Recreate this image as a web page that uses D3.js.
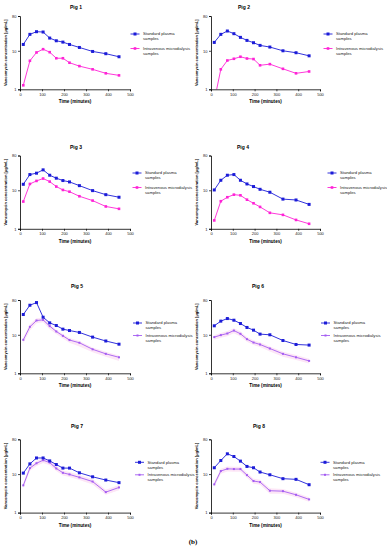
<!DOCTYPE html>
<html>
<head>
<meta charset="utf-8">
<script src="https://cdn.jsdelivr.net/npm/d3@7"></script>
<style>
  body { margin: 0; background: #fff; }
  text { font-family: "Liberation Sans", Arial, sans-serif; }
</style>
</head>
<body>
<div id="chart"></div>
<script>
// sampling times (minutes)
const times = [15, 45, 75, 105, 135, 165, 195, 225, 270, 330, 390, 450];
const pigNames = ["Pig 1", "Pig 2", "Pig 3", "Pig 4", "Pig 5", "Pig 6", "Pig 7", "Pig 8"];
const seriesNames = ["Standard plasma samples", "Intravenous microdialysis samples"];
const xTicks = [0, 100, 200, 300, 400, 500];
const yTicks = [1, 10, 80];

// standard plasma, µg/mL
const plasma1 = [14.6, 26.7, 31.3, 30.7, 21.4, 18.2, 16.8, 14.6, 12.2, 9.6, 8.4, 7.0];
const plasma2 = [16.5, 26.7, 32.6, 27.8, 22.3, 18.6, 16.2, 13.8, 12.5, 10.0, 8.9, 7.4];
const plasma3 = [14.3, 25.6, 27.8, 33.9, 24.6, 20.6, 17.9, 16.5, 13.2, 9.8, 7.7, 6.6];
const plasma4 = [10.2, 18.2, 24.6, 25.6, 18.2, 14.6, 12.5, 10.6, 8.9, 5.9, 5.6, 4.3];
const plasma5 = [33.6, 58.5, 68.6, 28.6, 20.4, 17.4, 14.0, 12.9, 11.5, 8.7, 6.9, 5.7];
const plasma6 = [17.1, 22.6, 26.4, 23.9, 19.6, 15.5, 13.2, 10.4, 10.0, 7.1, 5.6, 5.4];
const plasma7 = [10.6, 18.4, 26.2, 26.2, 22.0, 17.7, 14.3, 14.3, 10.8, 8.5, 7.0, 6.0];
const plasma8 = [14.6, 22.5, 33.6, 28.6, 21.7, 15.8, 14.6, 11.3, 9.6, 7.6, 7.3, 5.3];

// intravenous microdialysis, µg/mL
const micro1 = [1.27, 5.5, 9.05, 11.0, 9.2, 6.4, 6.4, 4.9, 4.0, 3.3, 2.6, 2.3];
const micro2 = [0.5, 3.3, 5.6, 6.2, 7.0, 6.3, 6.1, 4.2, 4.5, 3.4, 2.6, 2.9];
const micro3 = [5.1, 14.6, 17.5, 20.2, 16.8, 12.5, 10.2, 9.2, 7.0, 5.4, 3.8, 3.3];
const micro4 = [1.65, 5.2, 6.6, 7.7, 7.4, 5.7, 4.6, 3.7, 2.6, 2.3, 1.7, 1.35];
const micro5 = [7.4, 16.1, 23.5, 24.4, 16.8, 12.2, 9.4, 7.3, 6.2, 4.2, 3.2, 2.6];
const micro6 = [8.7, 9.8, 10.8, 12.9, 10.6, 7.7, 6.3, 5.6, 4.4, 3.2, 2.6, 2.1];
const micro7 = [5.1, 14.3, 19.1, 22.9, 19.9, 14.0, 10.8, 9.8, 8.2, 6.4, 3.4, 4.5];
const micro8 = [5.4, 12.0, 13.7, 13.5, 13.5, 9.4, 6.6, 6.2, 3.7, 3.6, 2.9, 2.2];

// shaded range around microdialysis (pigs 5-8)
const bandLo5 = [6.0, 13.0, 20.0, 21.0, 14.0, 10.5, 8.0, 6.2, 5.0, 3.5, 2.7, 2.1];
const bandHi5 = [8.6, 19.0, 27.0, 27.5, 19.0, 13.5, 10.5, 8.2, 6.9, 4.7, 3.6, 2.9];
const bandLo6 = [7.4, 8.4, 9.2, 11.0, 9.0, 6.6, 5.4, 4.8, 3.7, 2.7, 2.2, 1.8];
const bandHi6 = [9.8, 11.2, 12.6, 14.8, 12.2, 8.8, 7.2, 6.4, 5.0, 3.6, 3.0, 2.4];
const bandLo7 = [4.3, 12.2, 16.3, 19.5, 17.0, 12.0, 9.2, 8.4, 7.0, 5.4, 2.9, 3.8];
const bandHi7 = [5.9, 16.4, 22.0, 26.3, 22.9, 16.1, 12.4, 11.3, 9.4, 7.4, 3.9, 5.2];
const bandLo8 = [4.6, 10.2, 11.6, 11.5, 11.5, 8.0, 5.6, 5.3, 3.1, 3.1, 2.5, 1.9];
const bandHi8 = [6.2, 13.8, 15.8, 15.5, 15.5, 10.8, 7.6, 7.1, 4.3, 4.1, 3.3, 2.5];

const plasma = [plasma1, plasma2, plasma3, plasma4, plasma5, plasma6, plasma7, plasma8];
const micro = [micro1, micro2, micro3, micro4, micro5, micro6, micro7, micro8];
const bandLo = [null, null, null, null, bandLo5, bandLo6, bandLo7, bandLo8];
const bandHi = [null, null, null, null, bandHi5, bandHi6, bandHi7, bandHi8];

// layout (pixels)
const W = 387, H = 550;
const cols = [{x0: 20, x1: 130}, {x0: 211, x1: 320}];
const rowTop = [16, 155.5, 300, 439.3];
const plotH = 73.3;
const titleY = [9, 148.5, 288, 427.5];
const titleX = [76, 244, 76, 243, 77, 258, 77, 259];
const legendX = [135, 328, 137, 332, 137.5, 325.5, 139.5, 325];
const legendDy = [[18, 32.5], [17.5, 32], [23, 35.5], [23, 35.5]];

const blue = "#1c1cd8";
const magenta = "#ff22d6";
const violet = "#a45cf2";
const bandFill = "#fde6f6";

const svg = d3.select("#chart").append("svg")
  .attr("width", W).attr("height", H);

pigNames.forEach((name, i) => {
  const col = cols[i % 2];
  const row = Math.floor(i / 2);
  const top = rowTop[row], bottom = top + plotH;
  const microColor = i < 4 ? magenta : violet;

  const x = d3.scaleLinear().domain([0, 500]).range([col.x0, col.x1]);
  const y = d3.scaleLog().domain([1, 80]).range([bottom, top]);

  const g = svg.append("g");

  const clipId = "clip" + i;
  g.append("clipPath").attr("id", clipId)
    .append("rect")
    .attr("x", col.x0).attr("y", top - 3)
    .attr("width", col.x1 - col.x0 + 3).attr("height", plotH + 3);

  const plot = g.append("g").attr("clip-path", `url(#${clipId})`);

  if (bandLo[i]) {
    const area = d3.area()
      .x((d, k) => x(times[k]))
      .y0((d, k) => y(bandLo[i][k]))
      .y1((d, k) => y(bandHi[i][k]));
    plot.append("path").datum(bandLo[i])
      .attr("d", area).attr("fill", bandFill);
  }

  const line = d3.line().x((d, k) => x(times[k])).y(d => y(d));

  // microdialysis
  plot.append("path").datum(micro[i])
    .attr("d", line).attr("fill", "none")
    .attr("stroke", microColor).attr("stroke-width", 0.9);
  const ms = i < 4 ? 2.6 : 2.0;
  plot.selectAll(".mm").data(micro[i]).join("rect")
    .attr("x", (d, k) => x(times[k]) - ms / 2)
    .attr("y", d => y(d) - ms / 2)
    .attr("width", ms).attr("height", ms)
    .attr("fill", microColor);

  // plasma
  plot.append("path").datum(plasma[i])
    .attr("d", line).attr("fill", "none")
    .attr("stroke", blue).attr("stroke-width", 0.9);
  plot.selectAll(".pm").data(plasma[i]).join("rect")
    .attr("x", (d, k) => x(times[k]) - 1.5)
    .attr("y", d => y(d) - 1.5)
    .attr("width", 3).attr("height", 3)
    .attr("fill", blue);

  // axes
  const xAxis = d3.axisBottom(x).tickValues(xTicks).tickSize(2).tickPadding(1.5);
  const yAxis = d3.axisLeft(y).tickValues(yTicks).tickFormat(d3.format("d")).tickSize(2).tickPadding(1.5);

  const gx = g.append("g").attr("transform", `translate(0,${bottom})`).call(xAxis);
  const gy = g.append("g").attr("transform", `translate(${col.x0},0)`).call(yAxis);
  [gx, gy].forEach(a => {
    a.select(".domain").attr("stroke", "#000").attr("stroke-width", 0.8);
    a.selectAll(".tick line").attr("stroke", "#000").attr("stroke-width", 0.7);
    a.selectAll(".tick text").attr("font-size", 4).attr("fill", "#222")
      .style("font-family", "Liberation Sans, Arial, sans-serif");
  });

  // titles
  g.append("text").attr("x", titleX[i]).attr("y", titleY[row])
    .attr("text-anchor", "middle").attr("font-size", 5).attr("font-weight", "bold")
    .text(name);
  g.append("text").attr("x", (col.x0 + col.x1) / 2).attr("y", bottom + 14)
    .attr("text-anchor", "middle").attr("font-size", 4.6).attr("font-weight", "bold")
    .text("Time (minutes)");
  g.append("text")
    .attr("transform", `translate(${col.x0 - 13},${(top + bottom) / 2}) rotate(-90)`)
    .attr("text-anchor", "middle").attr("font-size", 4).attr("font-weight", "bold")
    .text("Vancomycin concentration [µg/mL]");

  // legend
  const lx = legendX[i];
  [[blue, 3], [microColor, ms]].forEach(([c, s], k) => {
    const ly = top + legendDy[row][k];
    g.append("line").attr("x1", lx - 4.5).attr("x2", lx + 4.5)
      .attr("y1", ly).attr("y2", ly).attr("stroke", c).attr("stroke-width", 0.9);
    g.append("rect").attr("x", lx - s / 2).attr("y", ly - s / 2)
      .attr("width", s).attr("height", s).attr("fill", c);
    const words = seriesNames[k].split(" ");
    const t = g.append("text").attr("x", lx + 8).attr("y", ly + 1.4)
      .attr("font-size", 4.2).attr("fill", "#222");
    t.append("tspan").attr("x", lx + 8).text(words.slice(0, -1).join(" "));
    t.append("tspan").attr("x", lx + 8).attr("dy", 5).text(words[words.length - 1]);
  });
});

svg.append("text").attr("x", 193).attr("y", 544)
  .attr("text-anchor", "middle").attr("font-size", 7).attr("font-weight", "bold")
  .style("font-family", "Liberation Serif, serif")
  .text("(b)");
</script>
</body>
</html>
